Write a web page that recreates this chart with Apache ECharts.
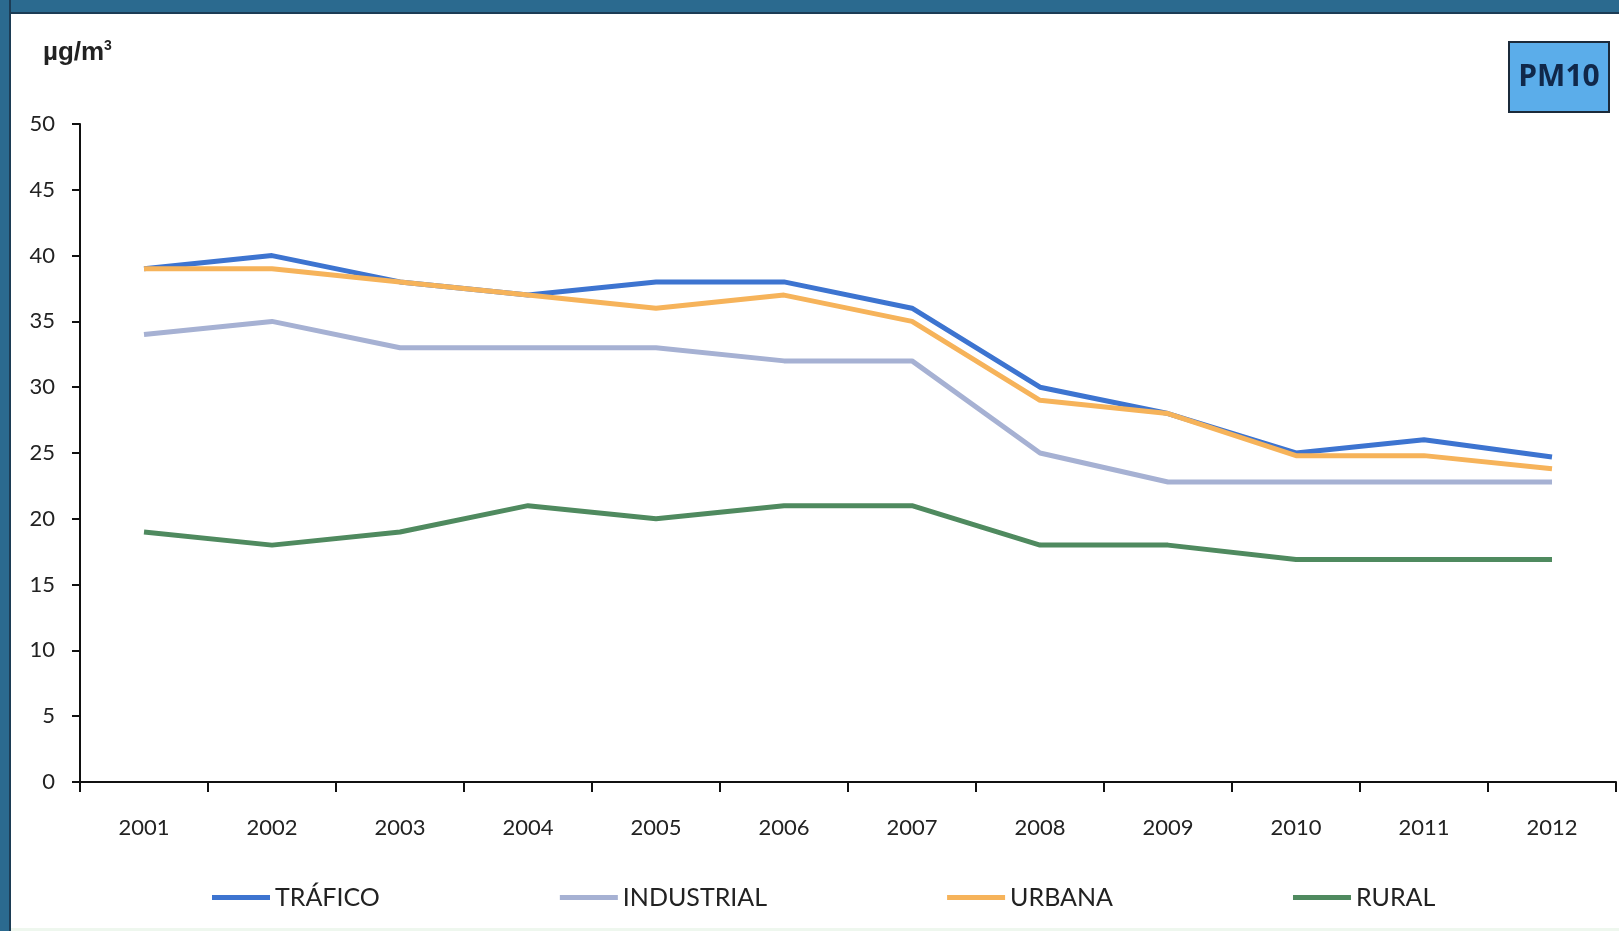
<!DOCTYPE html>
<html>
<head>
<meta charset="utf-8">
<script src="https://cdn.jsdelivr.net/npm/echarts@6/dist/echarts.min.js"></script>
<style>
html,body{margin:0;padding:0;background:#fff;}
#chart{width:1619px;height:931px;}
</style>
</head>
<body>
<div id="chart"></div>
<script>
const years = ['2001','2002','2003','2004','2005','2006','2007','2008','2009','2010','2011','2012'];
const trafico    = [39, 40, 38, 37, 38, 38, 36, 30, 28, 25, 26, 24.7];
const industrial = [34, 35, 33, 33, 33, 32, 32, 25, 22.8, 22.8, 22.8, 22.8];
const urbana     = [39, 39, 38, 37, 36, 37, 35, 29, 28, 24.8, 24.8, 23.8];
const rural      = [19, 18, 19, 21, 20, 21, 21, 18, 18, 16.9, 16.9, 16.9];
const seriesNames = ['TRÁFICO', 'INDUSTRIAL', 'URBANA', 'RURAL'];
const seriesColors = ['#3d74d0', '#a6b1d3', '#f6b35a', '#4f8a5f'];
const yTicks = { min: 0, max: 50, interval: 5 };

const chart = echarts.init(document.getElementById('chart'));
const dataSets = [trafico, industrial, urbana, rural];
const font = 'Lato, "Open Sans", sans-serif';

chart.setOption({
  animation: false,
  backgroundColor: '#ffffff',
  grid: { left: 80, right: 3, top: 124, bottom: 149 },
  legend: {
    left: 212, top: 885, padding: 0,
    itemGap: 180, itemWidth: 58, itemHeight: 5,
    icon: 'rect',
    textStyle: { fontFamily: font, fontSize: 25, color: '#222' },
    data: seriesNames
  },
  xAxis: {
    type: 'category', data: years, boundaryGap: true,
    axisLine: { lineStyle: { color: '#111', width: 2 } },
    axisTick: { show: true, length: 10, lineStyle: { color: '#111', width: 2 } },
    axisLabel: { margin: 35, fontFamily: font, fontSize: 22, color: '#222' },
    splitLine: { show: false }
  },
  yAxis: {
    type: 'value', min: yTicks.min, max: yTicks.max, interval: yTicks.interval,
    axisLine: { show: true, lineStyle: { color: '#111', width: 2 } },
    axisTick: { show: true, length: 8, lineStyle: { color: '#111', width: 2 } },
    axisLabel: { margin: 25, fontFamily: font, fontSize: 22, color: '#222' },
    splitLine: { show: false }
  },
  series: seriesNames.map((n, i) => ({
    name: n, type: 'line', data: dataSets[i],
    symbol: 'none', smooth: false,
    lineStyle: { color: seriesColors[i], width: 5 },
    itemStyle: { color: seriesColors[i] },
    z: 2 + i
  })),
  graphic: [
    { type: 'rect', left: 0, top: 0, shape: { width: 1619, height: 12 }, style: { fill: '#2b6a8f' }, z: 100 },
    { type: 'rect', left: 0, top: 12, shape: { width: 1619, height: 2 }, style: { fill: '#1c3c55' }, z: 100 },
    { type: 'rect', left: 0, top: 0, shape: { width: 9, height: 931 }, style: { fill: '#2b6a8f' }, z: 100 },
    { type: 'rect', left: 9, top: 0, shape: { width: 2, height: 931 }, style: { fill: '#1c3c55' }, z: 100 },
    { type: 'rect', left: 11, top: 928, shape: { width: 1608, height: 3 }, style: { fill: '#eef7ee' }, z: 100 },
    {
      type: 'text', left: 43, top: 40, z: 100,
      style: { text: 'µg/m', fontFamily: '"Liberation Sans", Arial, sans-serif', fontWeight: 'bold', fontSize: 26, fill: '#222' }
    },
    {
      type: 'text', left: 104, top: 39, z: 100,
      style: { text: '3', fontFamily: '"Liberation Sans", Arial, sans-serif', fontWeight: 'bold', fontSize: 14, fill: '#222' }
    },
    {
      type: 'group', left: 1508, top: 41, z: 100,
      children: [
        { type: 'rect', shape: { x: 0, y: 0, width: 100, height: 70 }, style: { fill: '#5badea', stroke: '#1b2a3a', lineWidth: 2 } },
        { type: 'text', x: 50, y: 35, style: { text: 'PM10', align: 'center', verticalAlign: 'middle', fontFamily: '"Open Sans", sans-serif', fontWeight: 'bold', fontSize: 30, fill: '#10284a' } }
      ]
    }
  ]
});
</script>
</body>
</html>
